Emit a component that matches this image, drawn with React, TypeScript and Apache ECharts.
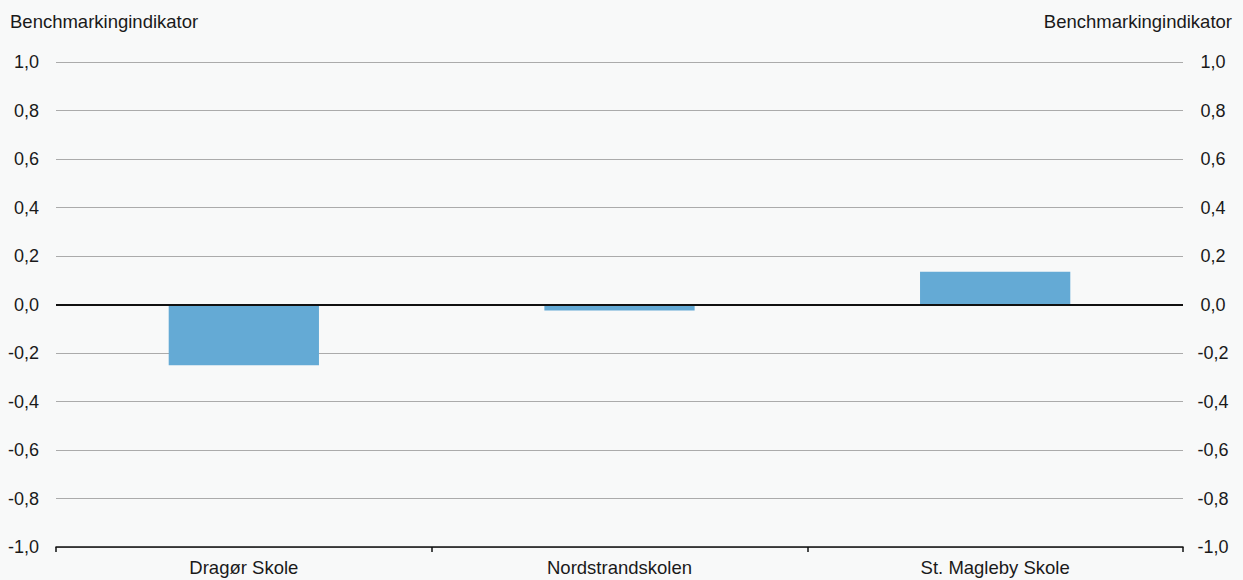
import React, { useEffect, useRef } from "react";
import * as echarts from "echarts";

const categories: string[] = ["Dragør Skole", "Nordstrandskolen", "St. Magleby Skole"];
const values: number[] = [-0.25, -0.025, 0.135];
const axisTitle = "Benchmarkingindikator";
const yMin = -1;
const yMax = 1;
const yStep = 0.2;

const FONT = "Liberation Sans, Arial, sans-serif";
const TEXT = "#1a1a1a";

const fmt = (v: number) => v.toFixed(1).replace(".", ",");

export default function App() {
  const ref = useRef<HTMLDivElement>(null);
  useEffect(() => {
    if (!ref.current) return;
    const chart = echarts.init(ref.current, undefined, { renderer: "svg" });
    chart.setOption({
      animation: false,
      backgroundColor: "#f8f9f9",
      textStyle: { fontFamily: FONT },
      grid: { left: 56, right: 60, top: 62, bottom: 33, containLabel: false },
      graphic: [
        {
          type: "text",
          left: 10,
          top: 12,
          style: { text: axisTitle, fill: TEXT, font: `18.5px ${FONT}` },
        },
        {
          type: "text",
          right: 11,
          top: 12,
          style: { text: axisTitle, fill: TEXT, font: `18.5px ${FONT}` },
        },
      ],
      xAxis: {
        type: "category",
        data: categories,
        boundaryGap: true,
        axisLine: { onZero: false, lineStyle: { color: "#111", width: 1.5 } },
        axisTick: { show: true, length: 5, lineStyle: { color: "#111", width: 1.5 } },
        axisLabel: { color: TEXT, fontSize: 18.5, fontFamily: FONT, margin: 11 },
        splitLine: { show: false },
      },
      yAxis: [
        {
          type: "value",
          min: yMin,
          max: yMax,
          interval: yStep,
          position: "left",
          axisLine: { show: false },
          axisTick: { show: false },
          axisLabel: { color: TEXT, fontSize: 18, fontFamily: FONT, margin: 17, formatter: fmt },
          splitLine: { show: true, lineStyle: { color: "#ababab", width: 1 } },
        },
        {
          type: "value",
          min: yMin,
          max: yMax,
          interval: yStep,
          position: "right",
          axisLine: { show: false },
          axisTick: { show: false },
          axisLabel: {
            color: TEXT,
            fontSize: 18,
            fontFamily: FONT,
            margin: 30,
            align: "center",
            formatter: fmt,
          },
          splitLine: { show: false },
        },
      ],
      series: [
        {
          type: "bar",
          data: values,
          barWidth: "40%",
          itemStyle: { color: "#64aad5" },
          z: 2,
          markLine: {
            silent: true,
            symbol: "none",
            label: { show: false },
            lineStyle: { color: "#111", width: 2, type: "solid" },
            data: [{ yAxis: 0 }],
            z: 5,
          },
        },
      ],
    });
    return () => chart.dispose();
  }, []);
  return (
    <div
      ref={ref}
      style={{ position: "fixed", left: 0, top: 0, width: 1243, height: 580 }}
    />
  );
}
